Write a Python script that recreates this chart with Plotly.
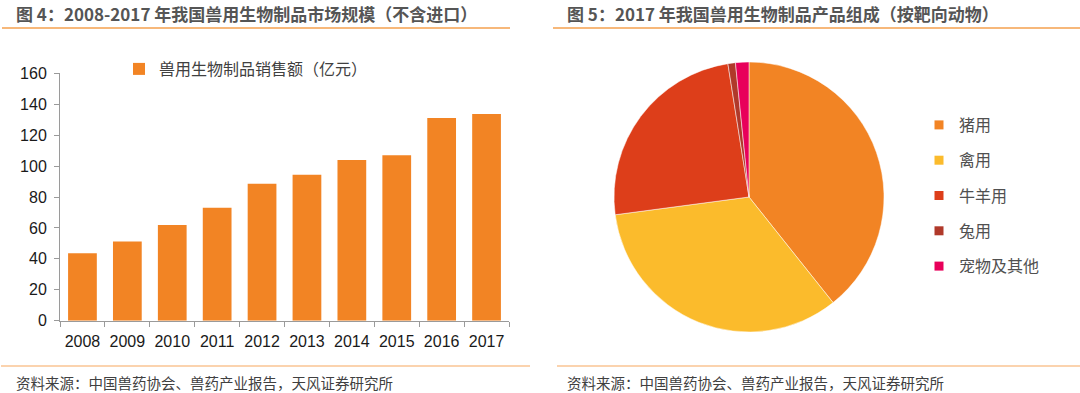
import plotly.graph_objects as go

# ---- data ----
years = ["2008", "2009", "2010", "2011", "2012", "2013", "2014", "2015", "2016", "2017"]
sales = [43.6, 51.3, 61.9, 73.1, 88.6, 94.4, 103.9, 107.0, 131.1, 133.7]
bar_name = "兽用生物制品销售额（亿元）"

pie_labels = ["猪用", "禽用", "牛羊用", "兔用", "宠物及其他"]
pie_values = [39.3, 33.6, 24.6, 0.9, 1.6]
pie_colors = ["#F28424", "#FBBB2C", "#DD3E1A", "#B0392A", "#E8005A"]

title_left = "图 4：2008-2017 年我国兽用生物制品市场规模（不含进口）"
title_right = "图 5：2017 年我国兽用生物制品产品组成（按靶向动物）"
source_text = "资料来源：中国兽药协会、兽药产业报告，天风证券研究所"

W, H = 1080, 393
def px(x):
    return x / W
def py(y):
    return 1 - y / H

CJK = "Noto Sans CJK SC, Noto Sans, sans-serif"
NUM = "Arial, Liberation Sans, sans-serif"

fig = go.Figure()

fig.add_trace(go.Bar(
    x=years, y=sales, name=bar_name,
    marker=dict(color="#F28424", line=dict(width=0)),
    showlegend=True, legend="legend",
))

fig.add_trace(go.Pie(
    labels=pie_labels, values=pie_values, sort=False, direction="clockwise",
    rotation=0, textinfo="none", hoverinfo="label+percent",
    marker=dict(colors=pie_colors, line=dict(color="white", width=0.5)),
    domain=dict(x=[px(614), px(884)], y=[py(332), py(62)]),
    showlegend=False,
))

# legend entries for pie (one group each so spacing can be set)
for lab, col in zip(pie_labels, pie_colors):
    fig.add_trace(go.Scatter(
        x=[None], y=[None], mode="markers", name=lab,
        marker=dict(symbol="square", size=9, color=col),
        legend="legend2", legendgroup=lab, showlegend=True,
    ))

shapes = [
    dict(type="line", xref="paper", yref="paper", x0=px(2), x1=px(510), y0=py(28), y1=py(28),
         line=dict(color="#F5A04E", width=1.5)),
    dict(type="line", xref="paper", yref="paper", x0=px(553), x1=1, y0=py(28), y1=py(28),
         line=dict(color="#F5A04E", width=1.5)),
    dict(type="line", xref="paper", yref="paper", x0=px(1), x1=px(530), y0=py(366), y1=py(366),
         line=dict(color="#FAC493", width=1.5)),
    dict(type="line", xref="paper", yref="paper", x0=px(557), x1=1, y0=py(366), y1=py(366),
         line=dict(color="#FAC493", width=1.5)),
]

annotations = [
    dict(text=title_left, xref="paper", yref="paper", x=px(14), y=py(13), xanchor="left", yanchor="middle",
         showarrow=False, font=dict(family=CJK, size=17, color="#555555", weight="bold")),
    dict(text=title_right, xref="paper", yref="paper", x=px(565), y=py(13), xanchor="left", yanchor="middle",
         showarrow=False, font=dict(family=CJK, size=17, color="#555555", weight="bold")),
    dict(text=source_text, xref="paper", yref="paper", x=px(14), y=py(382), xanchor="left", yanchor="middle",
         showarrow=False, font=dict(family=CJK, size=14.5, color="#404040")),
    dict(text=source_text, xref="paper", yref="paper", x=px(565), y=py(382), xanchor="left", yanchor="middle",
         showarrow=False, font=dict(family=CJK, size=14.5, color="#404040")),
]

fig.update_layout(
    width=W, height=H, autosize=False,
    margin=dict(l=0, r=0, t=0, b=0, pad=0),
    paper_bgcolor="white", plot_bgcolor="white",
    bargap=0.36,
    xaxis=dict(domain=[px(60), px(509)], type="category", showline=True, linecolor="#9A9A9A",
               linewidth=1, ticks="outside", tickson="boundaries", ticklen=5, tickcolor="#9A9A9A",
               ticklabelstandoff=6, tickangle=0,
               tickfont=dict(family=NUM, size=16, color="#1A1A1A"), showgrid=False, zeroline=False,
               automargin=False, fixedrange=True),
    yaxis=dict(domain=[py(320.7), py(73.3)], range=[0, 160], dtick=20, showline=True,
               linecolor="#9A9A9A", linewidth=1, ticks="outside", ticklen=5, tickcolor="#9A9A9A",
               ticklabelstandoff=4,
               tickfont=dict(family=NUM, size=16, color="#1A1A1A"), showgrid=False, zeroline=False,
               automargin=False, fixedrange=True),
    legend=dict(orientation="h", x=px(119), y=py(69), xanchor="left", yanchor="middle",
                font=dict(family=CJK, size=16, color="#404040"), bgcolor="rgba(0,0,0,0)"),
    legend2=dict(orientation="v", x=px(919), y=py(108), xanchor="left", yanchor="top",
                 traceorder="grouped", tracegroupgap=11.5,
                 font=dict(family=CJK, size=16, color="#505050"), bgcolor="rgba(0,0,0,0)"),
    shapes=shapes, annotations=annotations,
)

post = "document.body.style.margin='0';"
fig.write_html("out.html", config={"displayModeBar": False}, post_script=post)
